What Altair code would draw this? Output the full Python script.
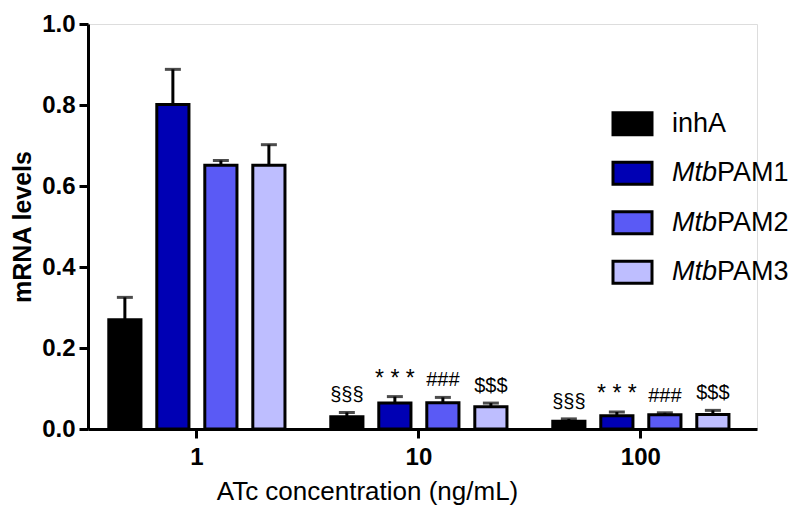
import altair as alt
import pandas as pd

# ---- data ----
groups = ["1", "10", "100"]
series = ["inhA", "MtbPAM1", "MtbPAM2", "MtbPAM3"]
prefix = ["", "Mtb", "Mtb", "Mtb"]
suffix = ["inhA", "PAM1", "PAM2", "PAM3"]
colors = ["#000000", "#0000B4", "#5A5AF5", "#BEBEFF"]

inhA = [0.270, 0.030, 0.019]
inhA_up = [0.325, 0.041, 0.025]
pam1 = [0.801, 0.064, 0.033]
pam1_up = [0.888, 0.080, 0.042]
pam2 = [0.651, 0.065, 0.035]
pam2_up = [0.663, 0.078, 0.040]
pam3 = [0.651, 0.055, 0.036]
pam3_up = [0.702, 0.064, 0.046]

signif = ["§§§", "* * *", "###", "$$$"]
signif_size = [20, 23, 20, 20]

values = [inhA, pam1, pam2, pam3]
uppers = [inhA_up, pam1_up, pam2_up, pam3_up]

rows = []
for si, s in enumerate(series):
    for gi, g in enumerate(groups):
        rows.append({
            "group": g,
            "series": s,
            "value": values[si][gi],
            "upper": uppers[si][gi],
            "annot": "" if g == "1" else signif[si],
            "fs": signif_size[si],
        })
df = pd.DataFrame(rows)

leg = pd.DataFrame({"series": series, "prefix": prefix, "suffix": suffix})

FONT = "Liberation Sans"

x_enc = alt.X(
    "group:N",
    sort=groups,
    scale=alt.Scale(paddingInner=0.135, paddingOuter=0.0743, align=0.39),
    axis=alt.Axis(
        title="ATc concentration (ng/mL)",
        labelAngle=0,
        labelFontSize=24,
        labelFontWeight="bold",
        labelColor="black",
        labelPadding=7,
        tickSize=9,
        tickWidth=3,
        tickColor="black",
        domainColor="black",
        domainWidth=3,
        titleFontSize=26,
        titleFontWeight="normal",
        titleColor="black",
        titleX=279,
        titleY=70,
        titleAlign="center",
        titleBaseline="alphabetic",
    ),
)
xoff = alt.XOffset(
    "series:N",
    sort=series,
    scale=alt.Scale(domain=series, paddingInner=0.33, paddingOuter=0.165),
)
yscale = alt.Scale(domain=[0, 1], nice=False, zero=True)
color = alt.Color("series:N", scale=alt.Scale(domain=series, range=colors), legend=None)

bars = alt.Chart(df).mark_bar(stroke="black", strokeWidth=3).encode(
    x=x_enc,
    xOffset=xoff,
    y=alt.Y(
        "value:Q",
        scale=yscale,
        axis=alt.Axis(
            title="mRNA levels",
            values=[0, 0.2, 0.4, 0.6, 0.8, 1.0],
            format=".1f",
            grid=False,
            labelFontSize=24,
            labelFontWeight="bold",
            labelColor="black",
            labelPadding=4,
            tickSize=9,
            tickWidth=3,
            tickColor="black",
            domainColor="black",
            domainWidth=3,
            titleFontSize=25,
            titleFontWeight="bold",
            titleColor="black",
            titlePadding=6,
        ),
    ),
    fill=color,
)

err = alt.Chart(df).mark_rule(color="black", strokeWidth=3).encode(
    x=x_enc,
    xOffset=xoff,
    y=alt.Y("value:Q", scale=yscale, axis=None),
    y2="upper:Q",
)

caps = alt.Chart(df).mark_tick(color="black", thickness=3, size=16, orient="horizontal").encode(
    x=x_enc,
    xOffset=xoff,
    y=alt.Y("upper:Q", scale=yscale, axis=None),
)

labels = alt.Chart(df).transform_filter("datum.annot != ''").mark_text(
    baseline="alphabetic", dy=-11, color="black", font=FONT
).encode(
    x=x_enc,
    xOffset=xoff,
    y=alt.Y("upper:Q", scale=yscale, axis=None),
    text="annot:N",
    size=alt.Size("fs:Q", scale=None),
)

# ---- custom legend (italic "Mtb" prefix) ----
leg_y = alt.Scale(domain=series, range=[75, 273], paddingInner=0.556, paddingOuter=0.278)

leg_rect = alt.Chart(leg).mark_rect(stroke="black", strokeWidth=3).encode(
    x=alt.value(525),
    x2=alt.value(564),
    y=alt.Y("series:N", sort=series, scale=leg_y, axis=None),
    fill=color,
)

leg_prefix = alt.Chart(leg).transform_filter("datum.prefix != ''").mark_text(
    align="left", baseline="middle", fontSize=27, fontStyle="italic", font=FONT, color="black"
).encode(
    x=alt.value(584),
    y=alt.Y("series:N", sort=series, scale=leg_y, axis=None),
    text="prefix:N",
)

leg_suffix_plain = alt.Chart(leg).transform_filter("datum.prefix == ''").mark_text(
    align="left", baseline="middle", fontSize=27, font=FONT, color="black"
).encode(
    x=alt.value(584),
    y=alt.Y("series:N", sort=series, scale=leg_y, axis=None),
    text="suffix:N",
)

leg_suffix = alt.Chart(leg).transform_filter("datum.prefix != ''").mark_text(
    align="left", baseline="middle", fontSize=27, font=FONT, color="black"
).encode(
    x=alt.value(629),
    y=alt.Y("series:N", sort=series, scale=leg_y, axis=None),
    text="suffix:N",
)

chart = (
    alt.layer(bars, err, caps, labels, leg_rect, leg_prefix, leg_suffix_plain, leg_suffix)
    .resolve_scale(y="independent")
    .properties(
        width=669,
        height=405,
        autosize=alt.AutoSizeParams(type="none"),
        padding={"left": 80, "top": 16, "right": 35, "bottom": 77},
        background="white",
    )
    .configure_view(stroke=None)
    .configure(font=FONT)
)

chart.save("out.html", embed_options={"renderer": "svg", "actions": False})
